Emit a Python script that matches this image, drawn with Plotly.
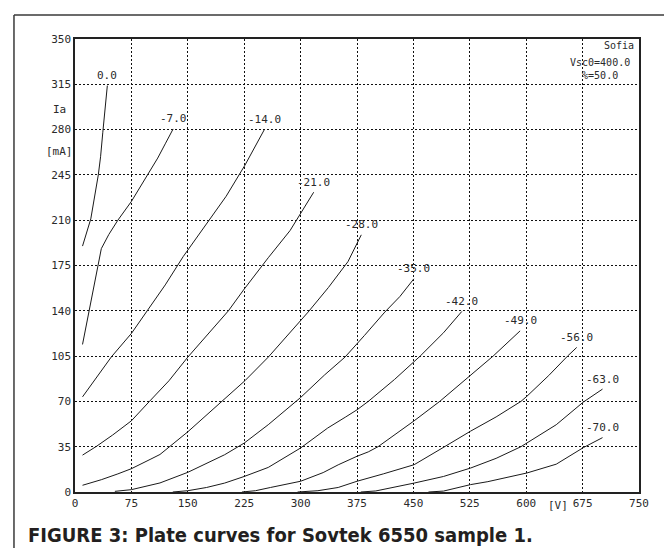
import plotly.graph_objects as go

# ---- data (plate voltage [V], plate current [mA]) ----
grid_labels = ["0.0", "-7.0", "-14.0", "-21.0", "-28.0", "-35.0", "-42.0", "-49.0", "-56.0", "-63.0", "-70.0"]

va_g0 = [10, 21, 31, 34, 37, 40, 43]
ia_g0 = [190, 211, 245, 259, 278, 299, 314]

va_g7 = [10, 18.5, 26.4, 31, 35, 45, 57, 75, 97, 110, 120, 130.5]
ia_g7 = [114, 139.5, 165, 178, 188, 199, 210, 224.5, 245, 258, 269, 280.5]

va_g14 = [10, 28, 48.5, 75, 97.5, 120, 144, 177, 201, 226, 251.5]
ia_g14 = [73.5, 88, 104.5, 122.5, 141, 160, 182, 209, 228.5, 252.5, 279.7]

va_g21 = [10, 28.6, 50, 75, 99, 125, 150, 177, 204, 224, 257, 286, 299, 317.4]
ia_g21 = [28.5, 35.3, 44, 55, 70, 86, 104.2, 122, 140, 156, 181, 202, 214, 231.6]

va_g28 = [10, 35, 57, 75, 101, 113, 150, 172, 195, 226, 257, 299, 310, 337, 363, 380.7]
ia_g28 = [5.2, 9.5, 14, 18, 25.5, 29, 46.5, 58, 69.5, 86, 104.2, 131.5, 139, 158, 178, 198.7]

va_g35 = [53, 75, 113, 150, 199, 225, 257, 300, 332, 359, 385, 412, 432, 450.6]
ia_g35 = [0.5, 1.8, 7, 15.2, 28.8, 37.8, 52, 73, 90.5, 104.2, 121, 139, 151, 164.7]

va_g42 = [130, 150, 175, 199, 225, 257, 300, 336, 360, 375, 390, 425, 459, 490, 514.4]
ia_g42 = [0, 1, 3.5, 6.9, 12, 19, 34, 49.4, 58, 63.5, 70, 87, 105, 123, 139.5]

va_g49 = [222, 240, 260, 300, 330, 350, 375, 390, 403, 451, 485, 526, 556, 591.9]
ia_g49 = [0, 1, 3.5, 8.3, 15, 21, 27.6, 31, 35, 55, 70, 90, 105, 124.5]

va_g56 = [296, 323, 350, 375, 410, 451, 491.5, 526, 560, 593, 601, 630, 655, 667.2]
ia_g56 = [0, 1, 3.5, 8.3, 14, 21.1, 35, 47, 58, 70, 74, 90, 105, 111.7]

va_g63 = [380, 400, 451, 490, 526, 560, 593, 601, 640, 676, 701.5]
ia_g63 = [0, 0.8, 6.9, 12, 18.5, 26, 35, 37.8, 52, 69.5, 79.5]

va_g70 = [470, 490, 526, 549, 601, 640, 676, 701.5]
ia_g70 = [0, 0.7, 5.7, 8, 14.7, 21.5, 34.3, 42]

x_ticks = [0, 75, 150, 225, 300, 375, 450, 525, 600, 675, 750]
y_ticks = [0, 35, 70, 105, 140, 175, 210, 245, 280, 315, 350]

curves_va = [va_g0, va_g7, va_g14, va_g21, va_g28, va_g35, va_g42, va_g49, va_g56, va_g63, va_g70]
curves_ia = [ia_g0, ia_g7, ia_g14, ia_g21, ia_g28, ia_g35, ia_g42, ia_g49, ia_g56, ia_g63, ia_g70]

MONO = "DejaVu Sans Mono"
TXT = "#2a2a2a"

fig = go.Figure()
ann = []
for lab, va, ia in zip(grid_labels, curves_va, curves_ia):
    fig.add_trace(go.Scatter(x=va, y=ia, mode="lines",
                             line=dict(color="#1a1a1a", width=1), showlegend=False,
                             hoverinfo="skip"))
    ann.append(dict(x=va[-1], y=ia[-1], xref="x", yref="y", text=lab, showarrow=False,
                    xanchor="center", yanchor="middle", yshift=10,
                    font=dict(family=MONO, size=11, color=TXT)))

# axis unit labels
ann.append(dict(x=-0.0266, y=295.7, xref="paper", yref="y", text="Ia", showarrow=False,
                xanchor="center", yanchor="middle", font=dict(family=MONO, size=11, color=TXT)))
ann.append(dict(x=-0.0266, y=263.3, xref="paper", yref="y", text="[mA]", showarrow=False,
                xanchor="center", yanchor="middle", font=dict(family=MONO, size=11, color=TXT)))
ann.append(dict(x=642, y=-0.0287, xref="x", yref="paper", text="[V]", showarrow=False,
                xanchor="center", yanchor="middle", font=dict(family=MONO, size=11, color=TXT)))
# top-right info
ann.append(dict(x=0.9948, y=0.9865, xref="paper", yref="paper", text="Sofia", showarrow=False,
                xanchor="right", yanchor="middle", font=dict(family=MONO, size=10, color=TXT)))
ann.append(dict(x=0.9305, y=0.934, xref="paper", yref="paper", text="Vsc0=400.0<br>%=50.0",
                showarrow=False, align="center",
                xanchor="center", yanchor="middle", font=dict(family=MONO, size=10, color=TXT)))
# caption
ann.append(dict(x=-0.0877, y=-0.0944, xref="paper", yref="paper",
                text="<b>FIGURE 3: Plate curves for Sovtek 6550 sample 1.</b>", showarrow=False,
                xanchor="left", yanchor="middle",
                font=dict(family="Liberation Sans Narrow, DejaVu Sans Condensed, Arial Narrow, sans-serif",
                          size=20, color="#231f20")))

shapes = [
    dict(type="line", xref="paper", yref="paper", x0=-0.1082, x1=-0.1082, y0=1.053, y1=-0.25,
         line=dict(color="#3a3a3a", width=1.5)),
    dict(type="line", xref="paper", yref="paper", x0=-0.1082, x1=1.2, y0=1.053, y1=1.053,
         line=dict(color="#3a3a3a", width=1.5)),
]

axis_common = dict(showgrid=True, gridcolor="#111111", griddash="2px,2px", gridwidth=1,
                   zeroline=False, showline=True, mirror=True, linecolor="#222222", linewidth=1.5,
                   ticks="", tickfont=dict(family=MONO, size=11, color=TXT))

fig.update_xaxes(range=[0, 750], tickvals=x_ticks, ticktext=[str(v) for v in x_ticks], **axis_common)
fig.update_yaxes(range=[0, 350], tickvals=y_ticks, ticktext=[str(v) for v in y_ticks], **axis_common)

fig.update_layout(width=672, height=548, margin=dict(l=67, r=41, t=31, b=64),
                  paper_bgcolor="white", plot_bgcolor="white",
                  annotations=ann, shapes=shapes, showlegend=False)

fig.write_html("out.html")
